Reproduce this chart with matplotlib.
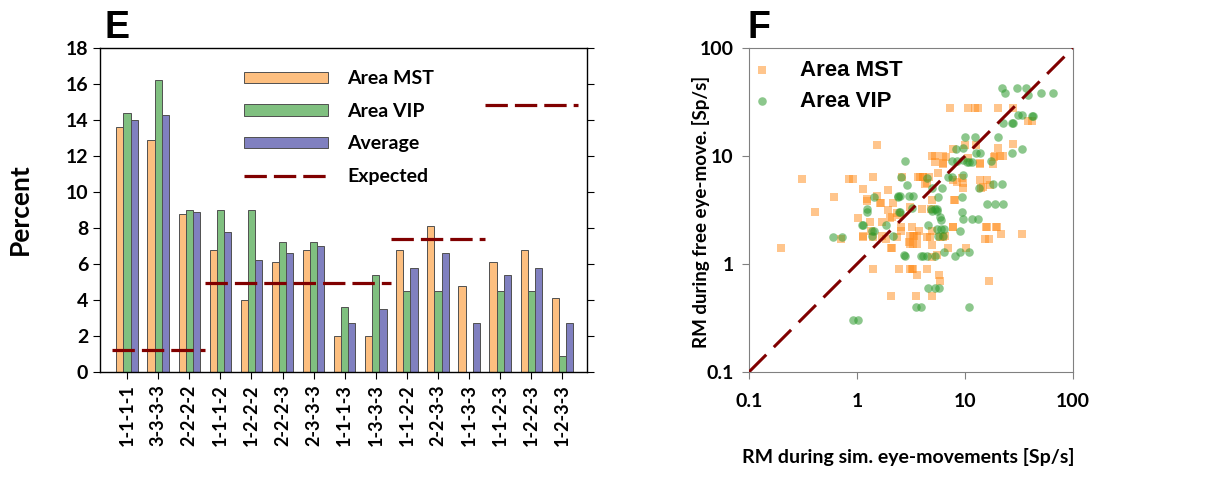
import matplotlib
matplotlib.use("Agg")
import matplotlib.pyplot as plt
from matplotlib.ticker import FixedLocator, FixedFormatter
import numpy as np

plt.rcParams["font.family"] = ["Lato", "DejaVu Sans"]
plt.rcParams["font.weight"] = "bold"

# ---- panel E data ----
combos = ["1-1-1-1", "3-3-3-3", "2-2-2-2", "1-1-1-2", "1-2-2-2", "2-2-2-3", "2-3-3-3",
          "1-1-1-3", "1-3-3-3", "1-1-2-2", "2-2-3-3", "1-1-3-3", "1-1-2-3", "1-2-2-3", "1-2-3-3"]
mst_pct = [13.6, 12.9, 8.8, 6.8, 4.0, 6.1, 6.8, 2.0, 2.0, 6.8, 8.1, 4.8, 6.1, 6.8, 4.1]
vip_pct = [14.4, 16.2, 9.0, 9.0, 9.0, 7.2, 7.2, 3.6, 5.4, 4.5, 4.5, 0.0, 4.5, 4.5, 0.9]
avg_pct = [14.0, 14.3, 8.9, 7.8, 6.2, 6.6, 7.0, 2.7, 3.5, 5.8, 6.6, 2.7, 5.4, 5.8, 2.7]
# expected percentage per group of combos (first index, last index, value)
exp_first = [0, 3, 9, 12]
exp_last = [2, 8, 11, 14]
exp_pct = [100 / 81, 400 / 81, 600 / 81, 1200 / 81]

# ---- panel F data (RM in Sp/s) ----
mst_sim = [0.31, 0.84, 0.92, 1.53, 0.41, 0.61, 1.14, 1.24, 1.24, 1.41, 1.53, 1.67, 1.94, 2.15,
           1.02, 1.32, 1.70, 1.94, 2.1, 2.35, 2.6, 3.1, 3.8, 4.1, 4.4, 4.8, 5.3, 5.3, 5.6, 6.3,
           6.7, 7.7, 8.4, 9.6, 9.6, 10, 10.6, 13.7, 14, 7.2, 10.6, 12.3, 13.2, 20, 28, 20, 21,
           22.5, 28, 18.5, 17, 14.7, 38, 42, 8.1, 0.2, 0.71, 1.14, 1.41, 1.35, 1.7, 2.0, 2.06,
           2.06, 2.35, 2.5, 2.45, 2.55, 3.1, 3.3, 3.6, 3.1, 3.3, 3.6, 3.1, 3.3, 3.6, 3.5, 3.75,
           4.4, 4.7, 4.4, 4.95, 5.0, 5.5, 5.75, 5.9, 5.9, 6.3, 7.0, 7.7, 10.2, 15.6, 19.3, 15.3,
           16.6, 16.6, 21.5, 34, 1.63, 1.14, 1.41, 1.86, 2.1, 2.55, 3.0, 3.2, 5.0, 6.3, 7.7,
           12.6, 19, 6.3, 13.7, 18, 3.7, 4.1, 4.6, 4.25, 9.4, 13.7, 16, 5.0, 7.9, 4.0, 3.2,
           7.7, 16, 19.8, 3.4, 6.5, 4.9, 5.0]
mst_free = [6.1, 6.1, 6.1, 12.6, 3.0, 4.2, 4.9, 4.0, 3.8, 6.4, 4.3, 3.7, 4.8, 3.7,
            2.66, 2.45, 2.45, 3.16, 2.7, 2.96, 6.4, 3.4, 6.4, 6.4, 5.6, 3.2, 10, 8.8, 7.0, 8.6,
            9.8, 6.0, 5.7, 5.6, 5.0, 12.6, 9.6, 8.6, 5.0, 28, 28, 28, 28, 28, 28, 11.8, 10,
            10, 12.9, 9.8, 5.4, 5.2, 21, 21, 3.9, 1.4, 1.7, 1.8, 0.9, 2.0, 1.8, 2.66, 1.4,
            0.5, 1.78, 2.85, 0.9, 2.0, 1.8, 1.8, 1.8, 1.53, 1.53, 1.53, 0.9, 0.9, 0.79, 0.5, 2.0,
            1.78, 1.78, 0.9, 2.0, 0.5, 1.21, 0.79, 0.7, 1.78, 1.78, 1.4, 2.2, 1.4, 2.2, 2.2, 1.7,
            1.7, 0.7, 1.9, 1.9, 3.7, 1.78, 1.78, 1.7, 1.4, 2.2, 1.6, 0.9, 10, 10, 11.6,
            12.6, 10, 8.4, 8.4, 8.4, 6.4, 6.4, 6.4, 5.5, 6.2, 6.0, 6.0, 3.9, 3.9, 3.2, 2.2,
            2.2, 2.2, 2.2, 1.8, 1.8, 1.5, 1.16]
vip_sim = [22, 23.5, 30, 37, 38, 51, 65, 31, 34, 42, 43, 22.5, 27, 28, 10, 12.3, 20, 8.3, 9.6,
           12.6, 13.7, 27, 34, 7.6, 8.4, 10.4, 10.9, 11.6, 17.4, 2.8, 9.6, 7.0, 7.6, 2.55, 18,
           22, 13.5, 6.1, 5.0, 2.4, 2.5, 3.0, 3.3, 5.6, 16, 19, 22.5, 9.4, 1.44, 1.24, 2.5, 3.2,
           5.0, 5.5, 9.4, 9.6, 11.6, 13.2, 5.9, 1.11, 0.6, 0.73, 0.92, 1.02, 1.24, 1.38, 1.44,
           1.86, 2.15, 2.45, 2.8, 3.9, 4.1, 4.4, 5.3, 4.5, 4.8, 5.3, 5.5, 5.5, 6.0, 6.0, 5.6,
           6.3, 6.4, 6.4, 8.1, 9.0, 9.0, 10.9, 4.5, 5.3, 5.7, 3.5, 3.9, 10.9, 1.14, 1.38, 2.4,
           2.7, 2.9, 4.4, 9.6]
vip_free = [43, 38, 43, 43, 37, 38, 38, 24, 24, 23.5, 23.5, 20, 20, 20, 15, 15, 15, 11.6, 11.8,
            10.6, 10.6, 10.6, 11.6, 9.0, 9.0, 8.8, 8.8, 8.8, 9.0, 9.0, 6.6, 6.4, 6.4, 6.4, 5.5,
            5.5, 5.0, 5.0, 5.0, 4.3, 4.3, 4.3, 4.3, 4.2, 3.6, 3.6, 3.6, 4.2, 4.2, 3.0, 3.0, 3.3,
            3.1, 3.1, 3.0, 2.6, 2.6, 2.6, 2.7, 2.3, 1.78, 1.78, 0.3, 0.3, 3.2, 1.8, 2.0,
            2.3, 1.8, 3.0, 1.19, 1.19, 1.19, 1.19, 1.19, 2.3, 3.2, 3.2, 3.2, 2.1, 2.1, 2.55, 1.8,
            1.8, 2.1, 1.3, 1.19, 2.0, 1.3, 1.3, 0.6, 0.6, 0.6, 0.4, 0.4, 0.4, 2.3, 2.0, 4.2,
            1.21, 5.4, 6.2, 9.2]

C_MST = "#FDBF80"
C_VIP = "#80C080"
C_AVG = "#8080C0"
C_EXP = "#800000"

fig = plt.figure(figsize=(12.18, 4.78), dpi=100)

# ---------------- panel E ----------------
ax = fig.add_axes([0.0821, 0.2218, 0.3998, 0.6778])
x = np.arange(len(combos))
w = 0.23
edge = dict(edgecolor="#505050", linewidth=0.7)
h_mst = ax.bar(x - w, mst_pct, w, color=C_MST, label="Area MST", **edge)
h_vip = ax.bar(x, vip_pct, w, color=C_VIP, label="Area VIP", **edge)
h_avg = ax.bar(x + w, avg_pct, w, color=C_AVG, label="Average", **edge)
h_exp = None
for a, b, v in zip(exp_first, exp_last, exp_pct):
    line, = ax.plot([a - 0.5, b + 0.5], [v, v], color=C_EXP, lw=2.3, dashes=(7, 2.2),
                    label="Expected")
    h_exp = h_exp or line

ax.set_xlim(-0.87, 14.79)
ax.set_ylim(0, 18)
ax.set_yticks(np.arange(0, 19, 2))
ax.set_xticks(x)
ax.set_xticklabels(combos, rotation=90, fontsize=13, fontweight="bold")
ax.tick_params(axis="y", labelsize=14, right=True, direction="out", length=5)
ax.tick_params(axis="x", direction="out", length=5, pad=4)
ax.set_ylabel("Percent", fontsize=19, fontweight="bold")
ax.yaxis.set_label_coords(-0.14, 0.503)
for s in ax.spines.values():
    s.set_linewidth(1.0)
ax.legend([h_mst, h_vip, h_avg, h_exp], ["Area MST", "Area VIP", "Average", "Expected"],
          loc="upper left", bbox_to_anchor=(0.26, 0.985), frameon=False, fontsize=14,
          handlelength=4.3, handleheight=0.5, labelspacing=0.8, handletextpad=1.0)
fig.text(0.086, 0.92, "E", fontsize=27, fontweight="bold", family="Liberation Sans")

# ---------------- panel F ----------------
ax2 = fig.add_axes([0.6149, 0.2218, 0.2661, 0.6778])
ax2.set_xscale("log")
ax2.set_yscale("log")
ax2.scatter(mst_sim, mst_free, marker="s", s=30, color="#FF8C1A", alpha=0.5,
            linewidths=0, label="Area MST")
ax2.scatter(vip_sim, vip_free, marker="o", s=38, color="#2E9A2E", alpha=0.55,
            linewidths=0, label="Area VIP")
ax2.plot([0.1, 100], [0.1, 100], color=C_EXP, lw=2.2, dashes=(8, 3.5), zorder=3)
ax2.set_xlim(0.1, 100)
ax2.set_ylim(0.1, 100)
ticks = [0.1, 1, 10, 100]
tlabels = ["0.1", "1", "10", "100"]
for axis in (ax2.xaxis, ax2.yaxis):
    axis.set_major_locator(FixedLocator(ticks))
    axis.set_major_formatter(FixedFormatter(tlabels))
    axis.set_minor_locator(FixedLocator([]))
ax2.tick_params(labelsize=14, direction="out", length=5, color="#808080")
ax2.tick_params(axis="x", pad=10)
ax2.tick_params(axis="y", pad=6)
for s in ax2.spines.values():
    s.set_color("#808080")
ax2.set_xlabel("RM during sim. eye-movements [Sp/s]", fontsize=14, fontweight="bold")
ax2.xaxis.set_label_coords(0.49, -0.235)
ax2.set_ylabel("RM during free eye-move. [Sp/s]", fontsize=13.5, fontweight="bold")
ax2.yaxis.set_label_coords(-0.12, 0.494)
ax2.legend(loc="upper left", bbox_to_anchor=(-0.09, 1.025), frameon=False,
           prop={"family": "Liberation Sans", "weight": "bold", "size": 16},
           handletextpad=0.7, labelspacing=0.45, markerscale=1.0)
fig.text(0.614, 0.92, "F", fontsize=27, fontweight="bold", family="Liberation Sans")

fig.savefig("out.png", dpi=100)
